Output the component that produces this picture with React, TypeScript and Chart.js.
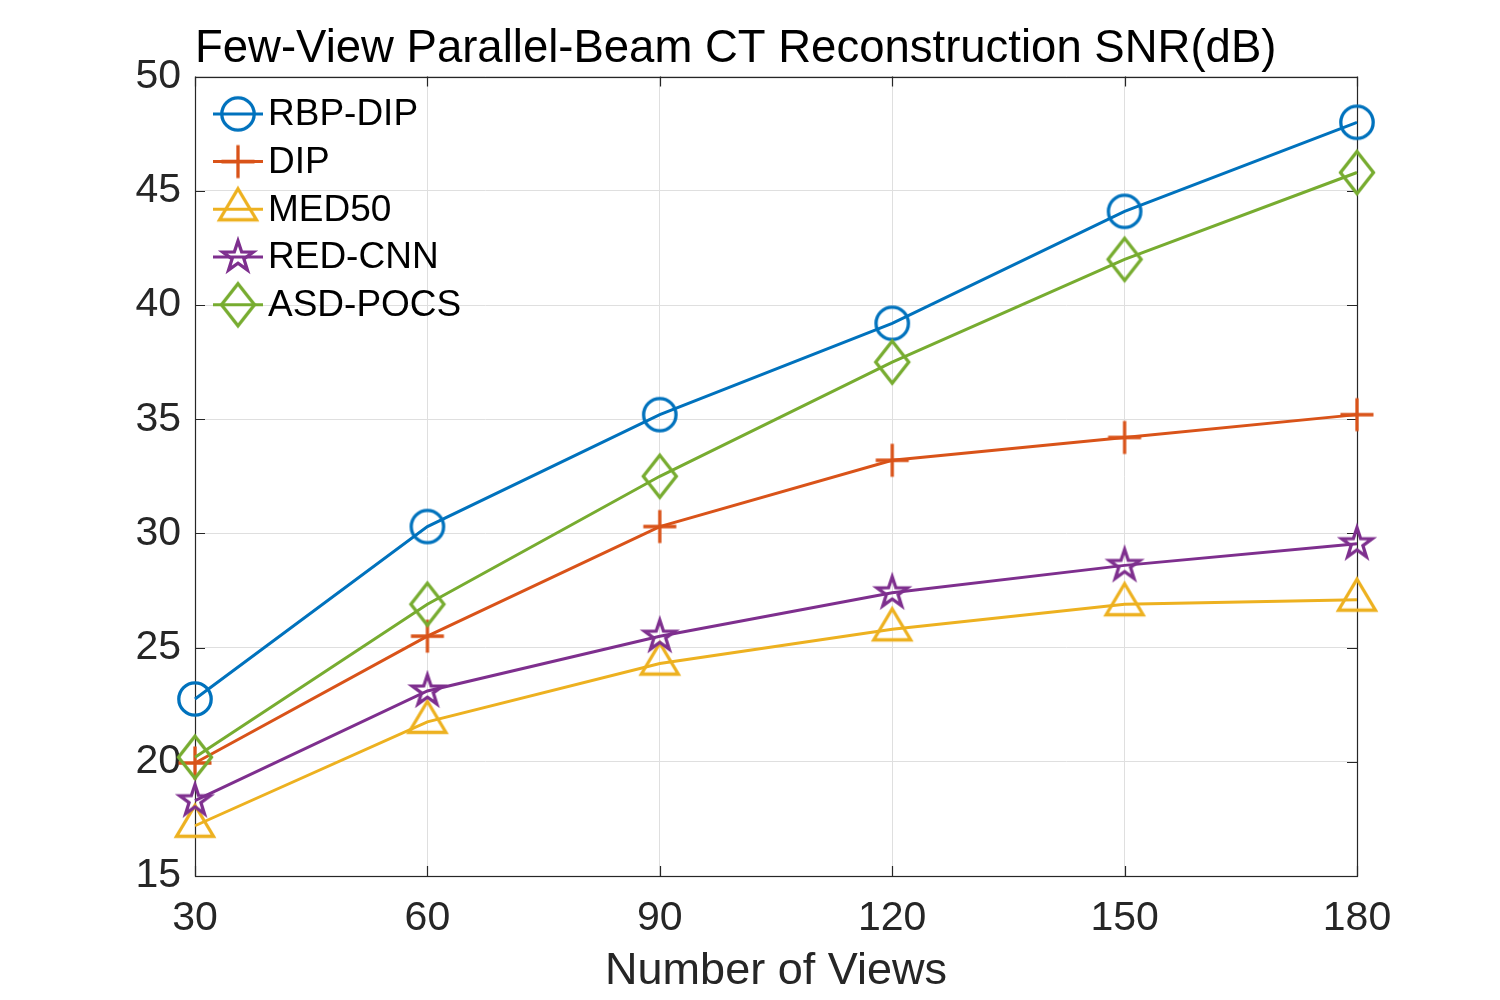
import React, { useEffect, useRef } from 'react';
import { Chart, registerables } from 'chart.js';

Chart.register(...registerables);

// ---------- data ----------
const views = [30, 60, 90, 120, 150, 180];
const rbpDip = [22.75, 30.3, 35.2, 39.2, 44.1, 48.0];
const dip = [19.95, 25.5, 30.3, 33.2, 34.2, 35.2];
const med50 = [17.2, 21.75, 24.3, 25.8, 26.9, 27.1];
const redCnn = [18.3, 23.1, 25.5, 27.4, 28.6, 29.55];
const asdPocs = [20.2, 26.9, 32.5, 37.5, 42.0, 45.8];

const seriesNames = ['RBP-DIP', 'DIP', 'MED50', 'RED-CNN', 'ASD-POCS'];
const seriesValues = [rbpDip, dip, med50, redCnn, asdPocs];
const seriesColors = ['#0072BD', '#D95319', '#EDB120', '#7E2F8E', '#77AC30'];
const seriesMarkers = ['circle', 'plus', 'triangle', 'star', 'diamond'];

const titleText = 'Few-View Parallel-Beam CT Reconstruction SNR(dB)';
const xAxisLabel = 'Number of Views';
const yMin = 15;
const yMax = 50;
const yStep = 5;
const xMin = 30;
const xMax = 180;
const xStep = 30;

const FONT = '"Liberation Sans", Arial, Helvetica, sans-serif';
const AXIS_COLOR = '#262626';
const GRID_COLOR = '#dfdfdf';
const LINE_W = 3;

function makeMarker(shape: string, color: string): HTMLCanvasElement {
  const S = 60;
  const c = document.createElement('canvas');
  c.width = S;
  c.height = S;
  const ctx = c.getContext('2d') as CanvasRenderingContext2D;
  const m = S / 2;
  ctx.strokeStyle = color;
  ctx.lineWidth = 3.3;
  ctx.lineJoin = 'miter';
  ctx.miterLimit = 10;
  ctx.beginPath();
  if (shape === 'circle') {
    ctx.arc(m, m, 16.2, 0, Math.PI * 2);
  } else if (shape === 'plus') {
    ctx.moveTo(m - 16.5, m);
    ctx.lineTo(m + 16.5, m);
    ctx.moveTo(m, m - 16.5);
    ctx.lineTo(m, m + 16.5);
  } else if (shape === 'triangle') {
    ctx.moveTo(m, m - 20.5);
    ctx.lineTo(m + 18.5, m + 10.5);
    ctx.lineTo(m - 18.5, m + 10.5);
    ctx.closePath();
  } else if (shape === 'star') {
    const R = 16;
    const r = R * 0.39;
    for (let k = 0; k < 10; k++) {
      const ang = -Math.PI / 2 + (k * Math.PI) / 5;
      const rad = k % 2 === 0 ? R : r;
      const px = m + rad * Math.cos(ang);
      const py = m + rad * Math.sin(ang);
      if (k === 0) ctx.moveTo(px, py);
      else ctx.lineTo(px, py);
    }
    ctx.closePath();
  } else if (shape === 'diamond') {
    ctx.moveTo(m, m - 21);
    ctx.lineTo(m + 16.5, m);
    ctx.lineTo(m, m + 21);
    ctx.lineTo(m - 16.5, m);
    ctx.closePath();
  }
  ctx.stroke();
  return c;
}

export default function App() {
  const canvasRef = useRef<HTMLCanvasElement | null>(null);

  useEffect(() => {
    document.body.style.margin = '0';
    const canvas = canvasRef.current;
    if (!canvas) return;

    const markers = seriesMarkers.map((s, i) => makeMarker(s, seriesColors[i]));

    const framePlugin = {
      id: 'matlabFrame',
      beforeDatasetsDraw(chart: any) {
        const { ctx, chartArea, scales } = chart;
        const { left, right, top, bottom } = chartArea;
        ctx.save();
        ctx.strokeStyle = AXIS_COLOR;
        ctx.lineWidth = 1.2;
        ctx.strokeRect(Math.round(left) + 0.5, Math.round(top) + 0.5, Math.round(right - left), Math.round(bottom - top));
        const tl = 10;
        ctx.beginPath();
        scales.y.ticks.forEach((t: any) => {
          const py = Math.round(scales.y.getPixelForValue(t.value)) + 0.5;
          ctx.moveTo(left, py);
          ctx.lineTo(left + tl, py);
          ctx.moveTo(right, py);
          ctx.lineTo(right - tl, py);
        });
        scales.x.ticks.forEach((t: any) => {
          const px = Math.round(scales.x.getPixelForValue(t.value)) + 0.5;
          ctx.moveTo(px, bottom);
          ctx.lineTo(px, bottom - tl);
          ctx.moveTo(px, top);
          ctx.lineTo(px, top + tl);
        });
        ctx.stroke();
        ctx.restore();
      },
    };

    const legendPlugin = {
      id: 'matlabLegend',
      afterDatasetsDraw(chart: any) {
        const { ctx, chartArea } = chart;
        ctx.save();
        chart.data.datasets.forEach((ds: any, i: number) => {
          const cy = chartArea.top + 37.3 + i * 47.7;
          const x0 = chartArea.left + 18;
          const x1 = chartArea.left + 68;
          const cx = chartArea.left + 43;
          ctx.strokeStyle = ds.borderColor;
          ctx.lineWidth = LINE_W;
          ctx.beginPath();
          ctx.moveTo(x0, cy);
          ctx.lineTo(x1, cy);
          ctx.stroke();
          const img = markers[i];
          ctx.drawImage(img, cx - img.width / 2, cy - img.height / 2);
          ctx.fillStyle = '#000';
          ctx.font = `37px ${FONT}`;
          ctx.textBaseline = 'middle';
          ctx.textAlign = 'left';
          ctx.fillText(ds.label, chartArea.left + 73, cy + 1);
        });
        ctx.restore();
      },
    };

    const chart = new Chart(canvas, {
      type: 'line',
      data: {
        datasets: seriesNames.map((name, i) => ({
          label: name,
          data: views.map((v, j) => ({ x: v, y: seriesValues[i][j] })),
          borderColor: seriesColors[i],
          backgroundColor: seriesColors[i],
          borderWidth: LINE_W,
          pointStyle: markers[i] as any,
          pointRadius: 12,
          pointHoverRadius: 12,
          fill: false,
          tension: 0,
          clip: false as any,
          order: seriesNames.length - i,
        })),
      },
      options: {
        responsive: false,
        animation: false,
        events: [],
        layout: { padding: { left: 0, right: 143, top: 0, bottom: 0 } },
        plugins: {
          legend: { display: false },
          tooltip: { enabled: false },
          title: {
            display: true,
            text: titleText,
            color: '#000',
            align: 'start',
            fullSize: false,
            font: { size: 45.5, family: FONT, weight: 'normal' as any },
            padding: { top: 22, bottom: 0 },
          } as any,
        },
        scales: {
          x: {
            type: 'linear',
            min: xMin,
            max: xMax,
            afterFit: (s: any) => {
              s.height = 124;
            },
            ticks: {
              stepSize: xStep,
              color: AXIS_COLOR,
              font: { size: 41, family: FONT },
              padding: 18,
              maxRotation: 0,
            },
            grid: { color: GRID_COLOR, lineWidth: 1, drawTicks: false },
            border: { display: false },
            title: {
              display: true,
              text: xAxisLabel,
              color: AXIS_COLOR,
              font: { size: 45, family: FONT },
              padding: { top: 0, bottom: 1 },
            },
          },
          y: {
            type: 'linear',
            min: yMin,
            max: yMax,
            afterFit: (s: any) => {
              s.width = 195;
            },
            ticks: {
              stepSize: yStep,
              color: AXIS_COLOR,
              font: { size: 41, family: FONT },
              padding: 14,
            },
            grid: { color: GRID_COLOR, lineWidth: 1, drawTicks: false },
            border: { display: false },
          },
        },
      },
      plugins: [framePlugin, legendPlugin],
    });

    return () => {
      chart.destroy();
    };
  }, []);

  return (
    <div style={{ width: 1500, height: 1000, background: '#fff' }}>
      <canvas ref={canvasRef} width={1500} height={1000} style={{ width: 1500, height: 1000, display: 'block' }} />
    </div>
  );
}
